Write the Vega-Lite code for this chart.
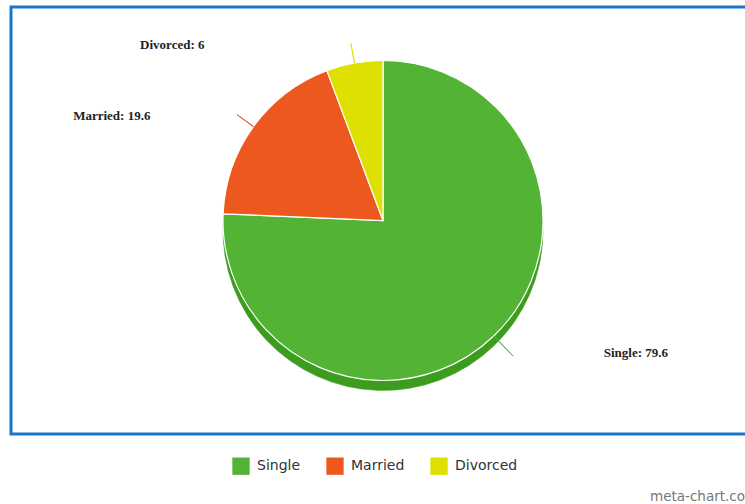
{
  "$schema": "https://vega.github.io/schema/vega-lite/v6.json",
  "width": 734,
  "height": 427,
  "autosize": {"type": "none"},
  "padding": {"left": 11, "top": 7, "right": 0, "bottom": 70},
  "background": "white",
  "config": {
    "view": {"stroke": null},
    "legend": {
      "orient": "none",
      "legendX": 221,
      "legendY": 450,
      "direction": "horizontal",
      "symbolType": "square",
      "symbolSize": 300,
      "symbolStrokeWidth": 0,
      "labelFont": "DejaVu Sans",
      "labelFontSize": 14,
      "labelColor": "#333333",
      "columnPadding": 25,
      "labelOffset": 7,
      "padding": 0
    }
  },
  "title": {
    "text": "meta-chart.co",
    "orient": "bottom",
    "anchor": "end",
    "frame": "group",
    "baseline": "alphabetic",
    "offset": 26,
    "font": "DejaVu Sans",
    "fontSize": 13.5,
    "fontWeight": "normal",
    "color": "#777777"
  },
  "data": {
    "values": [
      {"category": "Single", "value": 79.6},
      {"category": "Married", "value": 19.6},
      {"category": "Divorced", "value": 6}
    ]
  },
  "transform": [
    {"calculate": "datum.category + ': ' + datum.value", "as": "label"}
  ],
  "resolve": {"scale": {"theta": "independent"}},
  "layer": [
    {
      "data": {"values": [{}]},
      "mark": {"type": "rect", "fill": null, "stroke": "#1a74c8", "strokeWidth": 3, "x": 0, "y": 0, "x2": {"expr": "width + 4"}, "y2": {"expr": "height"}},
      "encoding": {}
    },
    {
      "mark": {"type": "arc", "radius": 160, "xOffset": 5, "yOffset": 10, "fill": "#3c9c1e", "stroke": "#3c9c1e", "strokeWidth": 0.5},
      "encoding": {
        "theta": {"field": "value", "type": "quantitative", "stack": true},
        "order": {"field": "value", "type": "quantitative", "sort": "descending"}
      }
    },
    {
      "mark": {"type": "arc", "radius": 160, "xOffset": 5, "stroke": "white", "strokeWidth": 1.2},
      "encoding": {
        "theta": {"field": "value", "type": "quantitative", "stack": true},
        "order": {"field": "value", "type": "quantitative", "sort": "descending"},
        "color": {
          "field": "category",
          "type": "nominal",
          "scale": {"domain": ["Single", "Married", "Divorced"], "range": ["#52b334", "#ec581e", "#dde000"]},
          "legend": {"title": null}
        }
      }
    },
    {
      "mark": {"type": "arc", "radius": 180, "radius2": 160, "padAngle": 3, "xOffset": 5, "fill": null, "stroke": "#ec581e", "strokeWidth": 1},
      "encoding": {
        "theta": {"field": "value", "type": "quantitative", "stack": true},
        "order": {"field": "value", "type": "quantitative", "sort": "descending"},
        "strokeOpacity": {"condition": {"test": "datum.category === 'Married'", "value": 1}, "value": 0}
      }
    },
    {
      "mark": {"type": "arc", "radius": 180, "radius2": 160, "padAngle": 3, "xOffset": 5, "fill": null, "stroke": "#dde000", "strokeWidth": 1.2},
      "encoding": {
        "theta": {"field": "value", "type": "quantitative", "stack": true},
        "order": {"field": "value", "type": "quantitative", "sort": "descending"},
        "strokeOpacity": {"condition": {"test": "datum.category === 'Divorced'", "value": 1}, "value": 0}
      }
    },
    {
      "mark": {"type": "arc", "radius": 188, "radius2": 160, "padAngle": 3, "xOffset": 5, "fill": null, "stroke": "#52b334", "strokeWidth": 1},
      "encoding": {
        "theta": {"field": "value", "type": "quantitative", "stack": true, "scale": {"range": [1.1885, 4.3301]}},
        "order": {"field": "value", "type": "quantitative", "sort": "descending"},
        "strokeOpacity": {"condition": {"test": "datum.category === 'Single'", "value": 1}, "value": 0}
      }
    },
    {
      "mark": {"type": "text", "radius": 160, "align": "left", "baseline": "middle", "dx": 115, "dy": 17, "font": "Liberation Serif", "fontWeight": "bold", "fontSize": 13, "color": "#222222"},
      "encoding": {
        "theta": {"field": "value", "type": "quantitative", "stack": true},
        "order": {"field": "value", "type": "quantitative", "sort": "descending"},
        "text": {"condition": {"test": "datum.category === 'Single'", "field": "label"}, "value": ""}
      }
    },
    {
      "mark": {"type": "text", "radius": 160, "align": "right", "baseline": "middle", "dx": -98, "dy": -10.5, "font": "Liberation Serif", "fontWeight": "bold", "fontSize": 13, "color": "#222222"},
      "encoding": {
        "theta": {"field": "value", "type": "quantitative", "stack": true},
        "order": {"field": "value", "type": "quantitative", "sort": "descending"},
        "text": {"condition": {"test": "datum.category === 'Married'", "field": "label"}, "value": ""}
      }
    },
    {
      "mark": {"type": "text", "radius": 160, "align": "right", "baseline": "middle", "dx": -145, "dy": -18, "font": "Liberation Serif", "fontWeight": "bold", "fontSize": 13, "color": "#222222"},
      "encoding": {
        "theta": {"field": "value", "type": "quantitative", "stack": true},
        "order": {"field": "value", "type": "quantitative", "sort": "descending"},
        "text": {"condition": {"test": "datum.category === 'Divorced'", "field": "label"}, "value": ""}
      }
    }
  ]
}
